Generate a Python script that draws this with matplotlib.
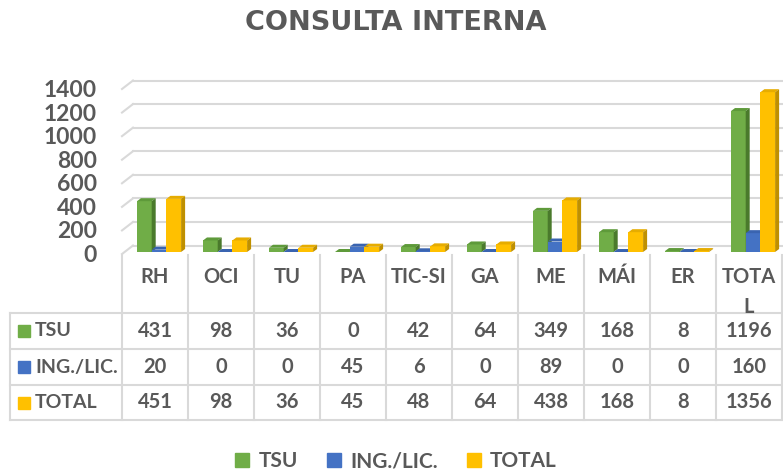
import matplotlib
matplotlib.use("Agg")
import matplotlib.pyplot as plt
from matplotlib.patches import Polygon, Rectangle
from matplotlib.lines import Line2D

# data
categories = ["RH", "OCI", "TU", "PA", "TIC-SI", "GA", "ME", "MÁI", "ER", "TOTAL"]
series = ["TSU", "ING./LIC.", "TOTAL"]
tsu = [431, 98, 36, 0, 42, 64, 349, 168, 8, 1196]
ing_lic = [20, 0, 0, 45, 6, 0, 89, 0, 0, 160]
total = [451, 98, 36, 45, 48, 64, 438, 168, 8, 1356]
yticks = [0, 200, 400, 600, 800, 1000, 1200, 1400]

values = [tsu, ing_lic, total]
front = ["#70AD47", "#4472C4", "#FFC000"]
top = ["#5E9A3A", "#3A64B0", "#E6AC00"]
side = ["#4A7A2C", "#2F5597", "#BF9000"]
TXT = "#595959"
GRID = "#D9D9D9"
FONT = "Lato"

W, H = 783, 476
fig = plt.figure(figsize=(W / 100, H / 100), dpi=100)

def box(x0, y0, x1, y1):  # pixel box (top-left origin) -> figure rect
    return [x0 / W, 1 - y1 / H, (x1 - x0) / W, (y1 - y0) / H]

fig.text(396 / W, 1 - 23 / H, "CONSULTA INTERNA", ha="center", va="center",
         fontsize=19.5, fontweight="bold", color=TXT, family="DejaVu Sans")

# ---- chart: bars on the front plane, grid on the back wall ----
ax = fig.add_axes(box(122, 87, 782, 252))
ax.set_xlim(-0.5, len(categories) - 0.5)
ax.set_ylim(0, 1400)
ax.axis("off")
upp = 1400 / 165.0          # value units per pixel
dxw = 11 / 66.0             # wall depth, category units
for v in yticks:
    yb = v + 6.5 * upp      # back wall
    yf = v - 2.0 * upp      # front edge
    ax.plot([-0.5 + dxw, len(categories) - 0.5], [yb, yb], color=GRID, lw=1.5,
            clip_on=False, zorder=1)
    ax.plot([-0.5, -0.5 + dxw], [yf, yb], color=GRID, lw=1.5,
            clip_on=False, zorder=1)
    ax.text(-0.5 - 25 / 66.0, v - 3.5 * upp, str(v), ha="right", va="center",
            fontsize=16.5, fontweight="bold", color=TXT, family=FONT)

bw = 14.7 / 66.0
g0 = 15 / 66.0
ddx = 4 / 66.0
ddy = 3 * upp
for i in range(len(categories)):
    for s in range(len(series)):
        h = values[s][i]
        x0 = i - 0.5 + g0 + s * bw
        x1 = x0 + bw
        ax.add_patch(Rectangle((x0, 0), bw, h, fc=front[s], ec="none", zorder=3,
                               clip_on=False))
        ax.add_patch(Polygon([(x0, h), (x1, h), (x1 + ddx, h + ddy), (x0 + ddx, h + ddy)],
                             fc=top[s], ec="none", zorder=3, clip_on=False))
        ax.add_patch(Polygon([(x1, 0), (x1 + ddx, ddy), (x1 + ddx, h + ddy), (x1, h)],
                             fc=side[s], ec="none", zorder=3, clip_on=False))

# ---- data table ----
tb = fig.add_axes(box(122, 253, 782, 420))
tb.set_xlim(-0.5, len(categories) - 0.5)
tb.set_ylim(167, 0)
tb.axis("off")
xl = -0.5 - 112 / 66.0
rows = [60, 96, 132, 167]
for y in rows:
    tb.plot([xl, len(categories) - 0.5], [y, y], color=GRID, lw=1.5, clip_on=False)
tb.plot([xl, xl], [rows[0], rows[-1]], color=GRID, lw=1.5, clip_on=False)
for k in range(len(categories) + 1):
    tb.plot([k - 0.5, k - 0.5], [2, rows[-1]], color=GRID, lw=1.5, clip_on=False)
for i, c in enumerate(categories):
    lab = "TOTA\nL" if c == "TOTAL" else c
    if "\n" in lab:
        tb.text(i, 14, lab, ha="center", va="top", fontsize=14.5, fontweight="bold",
                color=TXT, family=FONT, linespacing=1.6)
    else:
        tb.text(i, 24, lab, ha="center", va="center", fontsize=14.5, fontweight="bold",
                color=TXT, family=FONT)
for s, name in enumerate(series):
    yc = (rows[s] + rows[s + 1]) / 2
    tb.plot([-0.5 - 98 / 66.0], [yc], marker="s", ms=8.5, color=front[s], clip_on=False)
    tb.text(-0.5 - 87 / 66.0, yc, name, ha="left", va="center", fontsize=14,
            fontweight="bold", color=TXT, family=FONT)
    for i in range(len(categories)):
        tb.text(i, yc, str(values[s][i]), ha="center", va="center", fontsize=14.5,
                fontweight="bold", color=TXT, family=FONT)

# ---- legend ----
handles = [Line2D([], [], ls="none", marker="s", ms=10, color=front[s]) for s in range(3)]
fig.legend(handles, series, loc="center", bbox_to_anchor=(396 / W, 1 - 461 / H),
           ncol=3, frameon=False, handlelength=0.7, handletextpad=0.45,
           columnspacing=1.35, prop={"family": FONT, "weight": "bold", "size": 15},
           labelcolor=TXT)

fig.savefig("out.png", dpi=100)
